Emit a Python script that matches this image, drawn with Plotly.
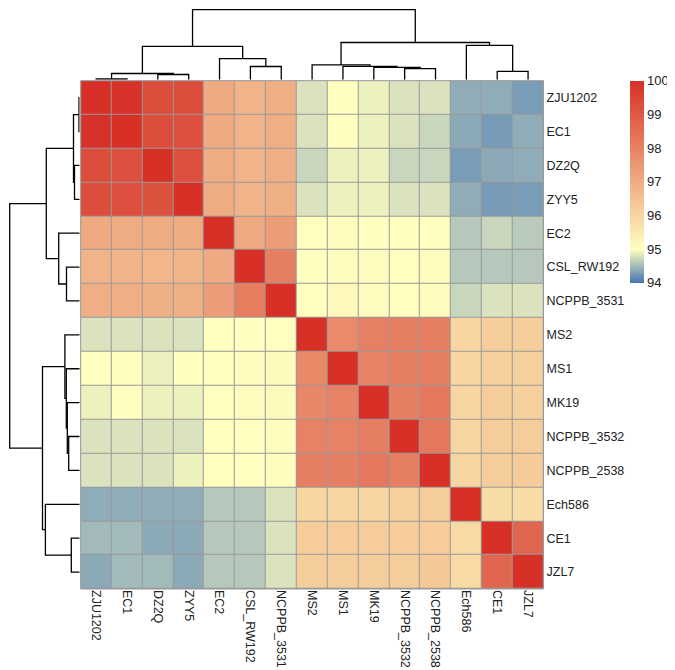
import plotly.graph_objects as go

labels = ["ZJU1202", "EC1", "DZ2Q", "ZYY5", "EC2", "CSL_RW192", "NCPPB_3531",
          "MS2", "MS1", "MK19", "NCPPB_3532", "NCPPB_2538", "Ech586", "CE1", "JZL7"]

row_ZJU1202 = [100, 99.95, 99.3, 99.3, 97.05, 96.8, 96.95, 94.8, 95.0, 94.9, 94.8, 94.8, 94.4, 94.4, 94.28]
row_EC1 = [99.95, 100, 99.3, 99.25, 97.05, 96.8, 96.95, 94.8, 95.0, 94.9, 94.8, 94.7, 94.38, 94.27, 94.4]
row_DZ2Q = [99.3, 99.25, 100, 99.25, 97.0, 96.8, 96.95, 94.7, 94.9, 94.9, 94.7, 94.7, 94.28, 94.38, 94.4]
row_ZYY5 = [99.3, 99.25, 99.2, 100, 97.0, 96.8, 96.9, 94.8, 94.9, 94.9, 94.8, 94.8, 94.4, 94.27, 94.28]
row_EC2 = [97.05, 97.0, 97.0, 97.0, 100, 97.05, 97.4, 95.03, 95.05, 95.0, 95.0, 95.0, 94.6, 94.7, 94.62]
row_CSL_RW192 = [96.8, 96.8, 96.75, 96.8, 97.05, 100, 98.1, 95.0, 95.05, 95.07, 95.03, 95.05, 94.6, 94.6, 94.6]
row_NCPPB_3531 = [96.95, 96.95, 96.9, 96.9, 97.4, 98.15, 100, 95.03, 95.15, 95.1, 95.03, 95.05, 94.7, 94.8, 94.8]
row_MS2 = [94.8, 94.8, 94.8, 94.8, 95.02, 95.0, 95.03, 100, 97.8, 98.07, 98.1, 98.1, 95.99, 96.18, 96.18]
row_MS1 = [95.0, 95.0, 94.9, 95.0, 95.02, 95.1, 95.13, 97.85, 100, 98.0, 98.1, 98.1, 96.0, 96.1, 96.1]
row_MK19 = [94.9, 95.0, 94.9, 94.9, 95.02, 95.1, 95.12, 97.9, 98.0, 100, 98.1, 98.26, 96.0, 96.2, 96.1]
row_NCPPB_3532 = [94.8, 94.8, 94.8, 94.8, 95.02, 95.02, 95.05, 98.0, 98.0, 98.1, 100, 98.26, 96.0, 96.2, 96.2]
row_NCPPB_2538 = [94.8, 94.8, 94.8, 94.9, 95.02, 95.02, 95.06, 98.1, 98.1, 98.26, 98.1, 100, 96.0, 96.2, 96.25]
row_Ech586 = [94.4, 94.4, 94.4, 94.4, 94.6, 94.6, 94.8, 96.0, 96.0, 96.0, 96.1, 96.2, 100, 95.85, 95.85]
row_CE1 = [94.5, 94.5, 94.38, 94.38, 94.6, 94.6, 94.8, 96.23, 96.23, 96.23, 96.23, 96.23, 95.9, 100, 98.7]
row_JZL7 = [94.38, 94.5, 94.5, 94.38, 94.6, 94.6, 94.8, 96.2, 96.2, 96.2, 96.2, 96.3, 95.9, 98.7, 100]

matrix = [row_ZJU1202, row_EC1, row_DZ2Q, row_ZYY5, row_EC2, row_CSL_RW192, row_NCPPB_3531,
          row_MS2, row_MS1, row_MK19, row_NCPPB_3532, row_NCPPB_2538, row_Ech586, row_CE1, row_JZL7]

colorbar_ticks = [94, 95, 96, 97, 98, 99, 100]

# hierarchical clustering merges (same tree for rows and columns)
merge_names = ["m1", "m2", "m3", "m4", "m5", "m6", "m7", "m8", "m9", "m10", "m11", "m12", "m13", "m14"]
merge_left = ["ZJU1202", "DZ2Q", "m1", "CSL_RW192", "EC2", "m3", "NCPPB_3532", "MK19", "MS1", "MS2",
              "CE1", "Ech586", "m10", "m6"]
merge_right = ["EC1", "ZYY5", "m2", "NCPPB_3531", "m4", "m5", "NCPPB_2538", "m7", "m8", "m9",
               "JZL7", "m11", "m12", "m13"]
merge_height = [0.7, 5.2, 6.2, 13.2, 21.0, 33.4, 11.0, 12.4, 13.4, 14.8, 8.4, 34.3, 37.2, 70.0]

W, H = 675, 670
hm_l, hm_r, hm_t, hm_b = 72.7, 535.5, 72.7, 581.0
dendro_px = 71.7

# dendrogram segments
pos = {lab: i for i, lab in enumerate(labels)}
hgt = {lab: 0.0 for lab in labels}
seg_pos, seg_h = [], []
for name, a, b, h in zip(merge_names, merge_left, merge_right, merge_height):
    xa, xb = pos[a], pos[b]
    ha, hb = hgt[a], hgt[b]
    seg_pos += [xa, xa, xb, xb, None]
    seg_h += [ha, h, h, hb, None]
    pos[name] = (xa + xb) / 2
    hgt[name] = h

fig = go.Figure()

fig.add_trace(go.Heatmap(
    z=matrix, x=labels, y=labels,
    zmin=94, zmax=100,
    colorscale=[[0, "#4575B4"], [1 / 6, "#FFFFBF"], [1, "#D73027"]],
    xgap=1, ygap=1,
    hoverongaps=False,
    colorbar=dict(
        x=622 / W, xanchor="left", xpad=0,
        y=1 - hm_t / H, yanchor="top", ypad=0,
        len=(275 - hm_t) / H, lenmode="fraction",
        thickness=14, outlinewidth=0,
        tickvals=colorbar_ticks, ticks="",
        tickfont=dict(size=13, color="#222222", family="Liberation Sans, Arial"),
    ),
    xaxis="x", yaxis="y",
))

fig.add_trace(go.Scatter(
    x=seg_pos, y=seg_h, mode="lines",
    line=dict(color="black", width=1.3),
    xaxis="x2", yaxis="y2", hoverinfo="skip", showlegend=False,
))
fig.add_trace(go.Scatter(
    x=seg_h, y=seg_pos, mode="lines",
    line=dict(color="black", width=1.3),
    xaxis="x3", yaxis="y3", hoverinfo="skip", showlegend=False,
))

font = dict(family="Liberation Sans, Arial", size=12.5, color="#222222")
n = len(labels)
fig.update_layout(
    width=W, height=H,
    margin=dict(l=0, r=0, t=0, b=0),
    paper_bgcolor="white", plot_bgcolor="white",
    showlegend=False,
    font=font,
    xaxis=dict(domain=[hm_l / W, hm_r / W], anchor="y", type="category",
               categoryorder="array", categoryarray=labels,
               range=[-0.5, n - 0.5],
               tickangle=90, ticks="", showgrid=False, zeroline=False, showline=False,
               tickfont=font, ticklabelstandoff=0),
    yaxis=dict(domain=[1 - hm_b / H, 1 - hm_t / H], anchor="x", type="category",
               categoryorder="array", categoryarray=labels,
               range=[n - 0.5, -0.5], side="right",
               ticks="", showgrid=False, zeroline=False, showline=False,
               tickfont=font, ticklabelstandoff=2),
    xaxis2=dict(domain=[hm_l / W, hm_r / W], anchor="y2", range=[-0.5, n - 0.5],
                visible=False),
    yaxis2=dict(domain=[1 - dendro_px / H, 1], anchor="x2", range=[0, dendro_px],
                visible=False),
    xaxis3=dict(domain=[0, dendro_px / W], anchor="y3", range=[dendro_px, 0],
                visible=False),
    yaxis3=dict(domain=[1 - hm_b / H, 1 - hm_t / H], anchor="x3", range=[n - 0.5, -0.5],
                visible=False),
    shapes=[
        dict(type="rect", xref="x domain", yref="y domain", x0=0, x1=1, y0=0, y1=1,
             fillcolor="#999999", line=dict(width=0), layer="below"),
        dict(type="rect", xref="x domain", yref="y domain", x0=0, x1=1, y0=0, y1=1,
             line=dict(color="#999999", width=1), layer="above"),
    ],
)

fig.write_html("out.html")
